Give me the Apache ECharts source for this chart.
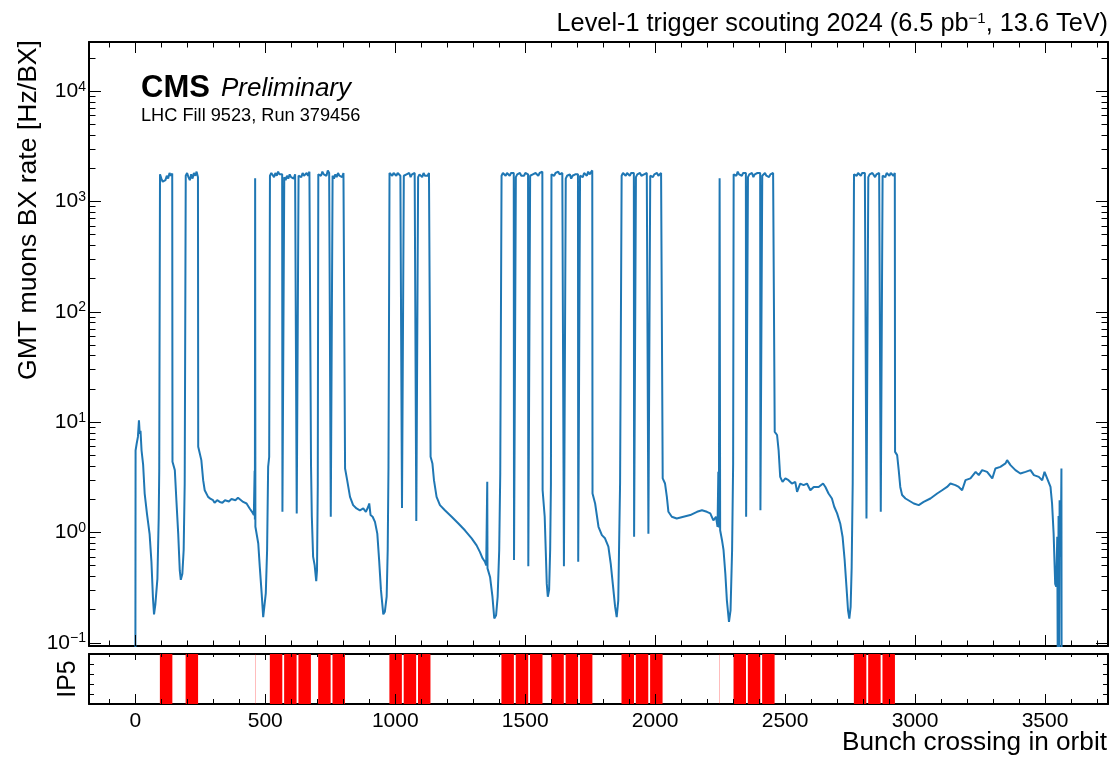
<!DOCTYPE html>
<html><head><meta charset="utf-8">
<script src="https://cdn.jsdelivr.net/npm/echarts@6/dist/echarts.min.js"></script>
<style>html,body{margin:0;padding:0;background:#fff}#c{width:1114px;height:759px}</style>
</head><body><div id="c"></div>
<script>
// ---------------- data ----------------
// filled bunch trains at IP5 (first BX, number of BX)
const trainStart  = [95, 194, 461, 518, 573, 628, 704, 759, 978, 1033, 1088, 1409, 1464, 1519, 1601, 1656, 1711, 1871, 1926, 1981, 2248, 2302, 2357, 2412, 2765, 2820, 2875];
const trainLength = [48, 48, 1, 48, 48, 48, 48, 48, 48, 48, 48, 48, 48, 48, 48, 48, 48, 48, 48, 48, 1, 48, 48, 48, 48, 48, 48];
// rate samples read along each train plateau [Hz/BX]
const trainRates = [
  [1750,1600,1500,1450,1550,1700,1600,1800,1700,1780],
  [1700,1800,1650,1550,1750,1600,1800,1700,1850,1650],
  [1615],
  [1700,1800,1750,1650,1800,1700,1850,1750,1800,1750],
  [1650,1550,1700,1600,1750,1650,1700,1600,1750,1700],
  [1700,1750,1650,1800,1700,1750,1800,1700,1850,1800],
  [1750,1800,1700,1850,1750,1800,1700,1900,1800,1750],
  [1700,1600,1750,1650,1800,1700,1750,1650,1800,1850],
  [1800,1750,1700,1800,1750,1700,1800,1750,1700,1750],
  [1700,1650,1750,1700,1800,1650,1750,1700,1800,1750],
  [1650,1750,1700,1650,1800,1700,1750,1700,1800,1750],
  [1700,1800,1750,1700,1800,1750,1700,1800,1750,1800],
  [1650,1750,1700,1800,1700,1750,1700,1800,1750,1750],
  [1700,1650,1750,1700,1800,1750,1700,1800,1750,1850],
  [1750,1800,1700,1800,1750,1850,1750,1700,1800,1750],
  [1600,1700,1650,1750,1600,1700,1650,1750,1700,1750],
  [1700,1750,1650,1800,1750,1700,1850,1750,1800,1900],
  [1700,1800,1750,1700,1800,1750,1700,1800,1750,1800],
  [1650,1750,1700,1800,1700,1650,1750,1700,1800,1750],
  [1700,1750,1650,1750,1700,1800,1700,1750,1800,1850],
  [1615],
  [1750,1800,1700,1850,1750,1800,1700,1800,1750,1800],
  [1650,1750,1700,1800,1650,1750,1700,1800,1750,1800],
  [1700,1750,1800,1700,1750,1650,1750,1700,1800,1750],
  [1750,1800,1700,1800,1750,1700,1800,1750,1800,1850],
  [1650,1750,1700,1800,1750,1650,1750,1700,1800,1750],
  [1700,1750,1650,1800,1750,1700,1800,1750,1700,1800]
];
// short gaps inside a block: [first BX, last BX, rate]
const gapDips = [
  [566,572,1.53],[621,627,1.48],[752,758,1.38],
  [1026,1032,1.66],[1081,1087,1.26],
  [1457,1463,0.56],[1512,1518,0.49],
  [1649,1655,0.49],[1704,1710,0.54],
  [1919,1925,0.91],[1974,1980,0.97],
  [2350,2356,1.38],[2405,2411,1.58],
  [2813,2819,1.33],[2868,2874,1.53]
];
// rate in the empty stretches between blocks: [BX, rate]
const emptyRate = [
  [0,0.01],[1,5.5],[5,6.3],[10,7.3],[14,10.3],[17,7.8],[20,8.3],[24,5.5],[30,4.1],[36,2.24],[45,1.46],[55,0.96],[62,0.54],[68,0.25],[72,0.18],[77,0.22],[85,0.38],[90,1.35],[92,3.6],
  [143,4.34],[152,3.65],[158,1.95],[165,0.97],[171,0.45],[175,0.37],[181,0.42],[186,0.69],[190,2.76],
  [242,5.94],[248,5.7],[254,4.5],[261,2.96],[267,2.4],[280,2.09],[290,2.0],[299,1.95],[305,1.85],[315,1.95],[325,1.88],[335,1.85],[345,1.95],[351,1.95],[360,1.9],[370,2.0],[376,2.02],[385,1.95],[395,2.05],[402,2.09],[415,1.88],[428,1.82],[440,1.64],[449,1.53],[456,1.43],[459,3.6],[460,1.3],
  [462,1.12],[466,1.12],[473,0.79],[479,0.48],[486,0.28],[492,0.17],[496,0.17],[502,0.28],[507,0.69],[511,3.9],[515,4.8],
  [676,4.0],[679,1.4],[684,0.6],[690,0.5],[696,0.36],[699,0.45],[702,2.7],
  [807,3.78],[815,2.96],[826,2.09],[838,1.76],[851,1.64],[864,1.58],[877,1.64],[887,1.53],[896,1.7],[900,1.82],[905,1.43],[913,1.38],[922,1.24],[931,0.97],[938,0.56],[945,0.3],[954,0.18],[960,0.19],[967,0.26],[971,0.69],[974,3.9],
  [1136,4.83],[1143,4.2],[1149,2.96],[1159,2.09],[1172,1.76],[1191,1.58],[1217,1.38],[1243,1.2],[1268,1.04],[1294,0.88],[1313,0.76],[1326,0.66],[1336,0.58],[1345,0.54],[1350,0.5],[1353,0.48],[1354,2.86],[1355,0.47],[1365,0.39],[1374,0.26],[1381,0.165],[1388,0.177],[1394,0.26],[1400,0.69],[1404,3.4],
  [1567,2.4],[1575,1.38],[1579,0.69],[1583,0.34],[1587,0.26],[1592,0.3],[1596,0.69],[1599,2.76],
  [1759,2.24],[1769,1.82],[1782,1.12],[1795,0.94],[1807,0.88],[1820,0.74],[1829,0.52],[1837,0.34],[1846,0.21],[1852,0.17],[1858,0.24],[1861,0.69],[1865,2.76],
  [2029,3.07],[2038,2.76],[2045,2.09],[2051,1.53],[2064,1.38],[2083,1.33],[2109,1.38],[2135,1.43],[2161,1.53],[2180,1.58],[2199,1.53],[2212,1.48],[2224,1.28],[2234,1.38],[2240,1.12],[2243,3.52],[2245,1.1],
  [2250,1.04],[2257,0.85],[2263,0.69],[2270,0.42],[2276,0.24],[2284,0.154],[2290,0.196],[2296,0.69],[2300,4.2],
  [2460,8.1],[2469,7.6],[2475,5.5],[2481,3.17],[2490,2.86],[2501,3.07],[2513,2.96],[2526,2.76],[2539,2.86],[2546,2.32],[2558,2.76],[2571,2.67],[2584,2.76],[2597,2.4],[2610,2.57],[2629,2.57],[2646,2.76],[2655,2.57],[2667,2.24],[2680,2.02],[2689,1.7],[2700,1.48],[2712,1.2],[2721,0.91],[2729,0.56],[2736,0.32],[2742,0.196],[2747,0.165],[2752,0.21],[2756,0.48],[2760,2.76],
  [2923,5.34],[2931,4.99],[2937,3.65],[2943,2.57],[2950,2.17],[2963,2.02],[2969,1.95],[2995,1.82],[3014,1.76],[3033,1.88],[3059,2.02],[3085,2.24],[3104,2.4],[3123,2.57],[3136,2.76],[3155,2.67],[3168,2.57],[3181,2.4],[3194,2.96],[3213,3.07],[3233,3.52],[3245,3.29],[3258,3.65],[3277,3.52],[3297,3.07],[3309,3.78],[3328,3.91],[3348,4.2],[3354,4.5],[3367,4.05],[3386,3.65],[3405,3.4],[3425,3.52],[3444,3.65],[3457,3.29],[3476,3.17],[3489,2.96],[3498,3.52],[3508,3.07],[3521,2.57],[3527,1.82],[3533,0.97],[3539,0.34],[3543,0.32],[3547,0.91],[3549,0.05],[3552,1.4],[3554,0.05],[3556,1.95],[3559,0.6],[3562,1.9],[3563,3.78],[3564,0.01]
];
// axes
const xRange = [-178.2, 3742.2];
const yRange = [0.093, 27700];
const xMajorTicks = [0, 500, 1000, 1500, 2000, 2500, 3000, 3500];
const xMinorTicks = [-100, 100, 200, 300, 400, 600, 700, 800, 900, 1100, 1200, 1300, 1400, 1600, 1700, 1800, 1900, 2100, 2200, 2300, 2400, 2600, 2700, 2800, 2900, 3100, 3200, 3300, 3400, 3600, 3700];
const yMajorTicks = [0.1, 1, 10, 100, 1000, 10000];
const yMinorTicks = [0.2,0.3,0.4,0.5,0.6,0.7,0.8,0.9, 2,3,4,5,6,7,8,9, 20,30,40,50,60,70,80,90, 200,300,400,500,600,700,800,900, 2000,3000,4000,5000,6000,7000,8000,9000, 20000];
const ip5Ticks = [0.2, 0.4, 0.6, 0.8];
const yExponents = {'0.1':'−1','1':'0','10':'1','100':'2','1000':'3','10000':'4'};

// ---------------- build ----------------
const FONT = "'Liberation Sans', Arial, Helvetica, sans-serif";
const trainPts = [];
trainStart.forEach((s, k) => {
  const len = trainLength[k], vals = trainRates[k];
  if (vals.length === 1) { trainPts.push([s, vals[0]]); return; }
  vals.forEach((v, i) => trainPts.push([s + i * (len - 1) / (vals.length - 1), v]));
});
const gapPts = [];
gapDips.forEach(g => { gapPts.push([g[0], g[2]], [g[1], g[2]]); });
const lineData = emptyRate.concat(trainPts, gapPts).sort((a, b) => a[0] - b[0]);

// tick marks: [value, dummy, bottom/left length, top/right length]
const mainXTicks = xMajorTicks.map(v => [v, 1, 11, 11]).concat(xMinorTicks.map(v => [v, 1, 5.5, 5.5]));
const mainYTicks = yMajorTicks.map(v => [0, v, 12, 12]).concat(yMinorTicks.map(v => [0, v, 6.5, 6.5]));
const ip5XTicks = xMajorTicks.map(v => [v, 0.5, 10, 6]).concat(xMinorTicks.map(v => [v, 0.5, 5, 3]));
const ip5YTicks = ip5Ticks.map(v => [0, v, 5, 5]);

function tickLine(x1, y1, x2, y2) {
  return {type: 'line', shape: {x1, y1, x2, y2}, style: {stroke: '#000', lineWidth: 1}};
}
function xTickSeries(xi, yi, data) {
  return {
    type: 'custom', xAxisIndex: xi, yAxisIndex: yi, clip: false, silent: true, z: 5, data,
    renderItem: function (params, api) {
      const cs = params.coordSys;
      const px = Math.round(api.coord([api.value(0), api.value(1)])[0]) + 0.5;
      const b = cs.y + cs.height;
      return {type: 'group', children: [
        tickLine(px, b, px, b - api.value(2)),
        tickLine(px, cs.y, px, cs.y + api.value(3))
      ]};
    }
  };
}
function yTickSeries(xi, yi, data) {
  return {
    type: 'custom', xAxisIndex: xi, yAxisIndex: yi, clip: false, silent: true, z: 5, data,
    renderItem: function (params, api) {
      const cs = params.coordSys;
      const py = Math.round(api.coord([api.value(0), api.value(1)])[1]) + 0.5;
      const r = cs.x + cs.width;
      return {type: 'group', children: [
        tickLine(cs.x, py, cs.x + api.value(2), py),
        tickLine(r, py, r - api.value(3), py)
      ]};
    }
  };
}

const frameLine = {show: true, onZero: false, lineStyle: {color: '#000', width: 2}};
function xAx(grid, pos, label) {
  return {
    type: 'value', gridIndex: grid, position: pos, min: xRange[0], max: xRange[1],
    axisLine: frameLine, axisTick: {show: false},
    axisLabel: label ? {show: true, customValues: xMajorTicks, color: '#000', fontSize: 21, fontFamily: FONT, margin: 7,
                        formatter: v => String(v)} : {show: false},
    splitLine: {show: false}
  };
}
function yAxLog(pos, label) {
  return {
    type: 'log', logBase: 10, gridIndex: 0, position: pos, min: yRange[0], max: yRange[1],
    axisLine: frameLine, axisTick: {show: false},
    axisLabel: label ? {
      show: true, customValues: yMajorTicks, margin: 3,
      formatter: v => '{b|10}{s|' + (yExponents[String(v)] || '') + '}',
      rich: {
        b: {fontSize: 21, fontFamily: FONT, color: '#000', lineHeight: 22, verticalAlign: 'bottom'},
        s: {fontSize: 14, fontFamily: FONT, color: '#000', lineHeight: 14, verticalAlign: 'top'}
      }
    } : {show: false},
    splitLine: {show: false}, minorSplitLine: {show: false}
  };
}
function yAxIp5(pos) {
  return {
    type: 'value', gridIndex: 1, position: pos, min: 0, max: 1,
    axisLine: frameLine, axisTick: {show: false}, axisLabel: {show: false}, splitLine: {show: false}
  };
}

const option = {
  animation: false,
  backgroundColor: '#fff',
  grid: [
    {left: 89, top: 42, width: 1019, height: 604},
    {left: 89, top: 654, width: 1019, height: 50}
  ],
  xAxis: [xAx(0, 'bottom', false), xAx(0, 'top', false), xAx(1, 'bottom', true), xAx(1, 'top', false)],
  yAxis: [yAxLog('left', true), yAxLog('right', false), yAxIp5('left'), yAxIp5('right')],
  series: [
    {
      type: 'line', xAxisIndex: 0, yAxisIndex: 0, data: lineData,
      showSymbol: false, symbol: 'none', clip: true, silent: true,
      lineStyle: {color: '#1f77b4', width: 2}
    },
    {
      type: 'custom', xAxisIndex: 2, yAxisIndex: 2, clip: true, silent: true,
      data: trainStart.map((s, k) => [s, trainLength[k]]),
      renderItem: function (params, api) {
        const s = api.value(0), l = api.value(1);
        const p0 = api.coord([s - 0.5, 1]);
        const p1 = api.coord([s + l - 0.5, 0]);
        return {type: 'rect', shape: {x: p0[0], y: p0[1], width: p1[0] - p0[0], height: p1[1] - p0[1]}, style: {fill: '#ff0000'}};
      }
    },
    xTickSeries(0, 0, mainXTicks),
    yTickSeries(0, 0, mainYTicks),
    xTickSeries(2, 2, ip5XTicks),
    yTickSeries(2, 2, ip5YTicks)
  ],
  graphic: [
    {type: 'text', x: 1108, y: 24, style: {
      text: '{a|Level-1 trigger scouting 2024 (6.5 pb}{s|−1}{a|, 13.6 TeV)}', align: 'right', verticalAlign: 'middle',
      rich: {a: {fontSize: 25.3, fontFamily: FONT, fill: '#000', lineHeight: 26, verticalAlign: 'bottom'},
             s: {fontSize: 15, fontFamily: FONT, fill: '#000', lineHeight: 15, verticalAlign: 'top'}}}},
    {type: 'text', x: 28.5, y: 40, rotation: Math.PI / 2, style: {
      text: 'GMT muons BX rate [Hz/BX]', align: 'right', verticalAlign: 'middle', fontSize: 26.6, fontFamily: FONT, fill: '#000'}},
    {type: 'text', x: 1107, y: 743, style: {
      text: 'Bunch crossing in orbit', align: 'right', verticalAlign: 'middle', fontSize: 26.2, fontFamily: FONT, fill: '#000'}},
    {type: 'text', x: 68, y: 679, rotation: Math.PI / 2, style: {
      text: 'IP5', align: 'center', verticalAlign: 'middle', fontSize: 25, fontFamily: FONT, fill: '#000'}},
    {type: 'text', x: 141, y: 88, style: {
      text: 'CMS', align: 'left', verticalAlign: 'middle', fontSize: 31, fontWeight: 'bold', fontFamily: FONT, fill: '#000'}},
    {type: 'text', x: 221, y: 89, style: {
      text: 'Preliminary', align: 'left', verticalAlign: 'middle', fontSize: 26, fontStyle: 'italic', fontFamily: FONT, fill: '#000'}},
    {type: 'text', x: 141, y: 116, style: {
      text: 'LHC Fill 9523, Run 379456', align: 'left', verticalAlign: 'middle', fontSize: 18.2, fontFamily: FONT, fill: '#000'}}
  ]
};
const chart = echarts.init(document.getElementById('c'), null, {renderer: 'canvas'});
chart.setOption(option);
</script></body></html>
